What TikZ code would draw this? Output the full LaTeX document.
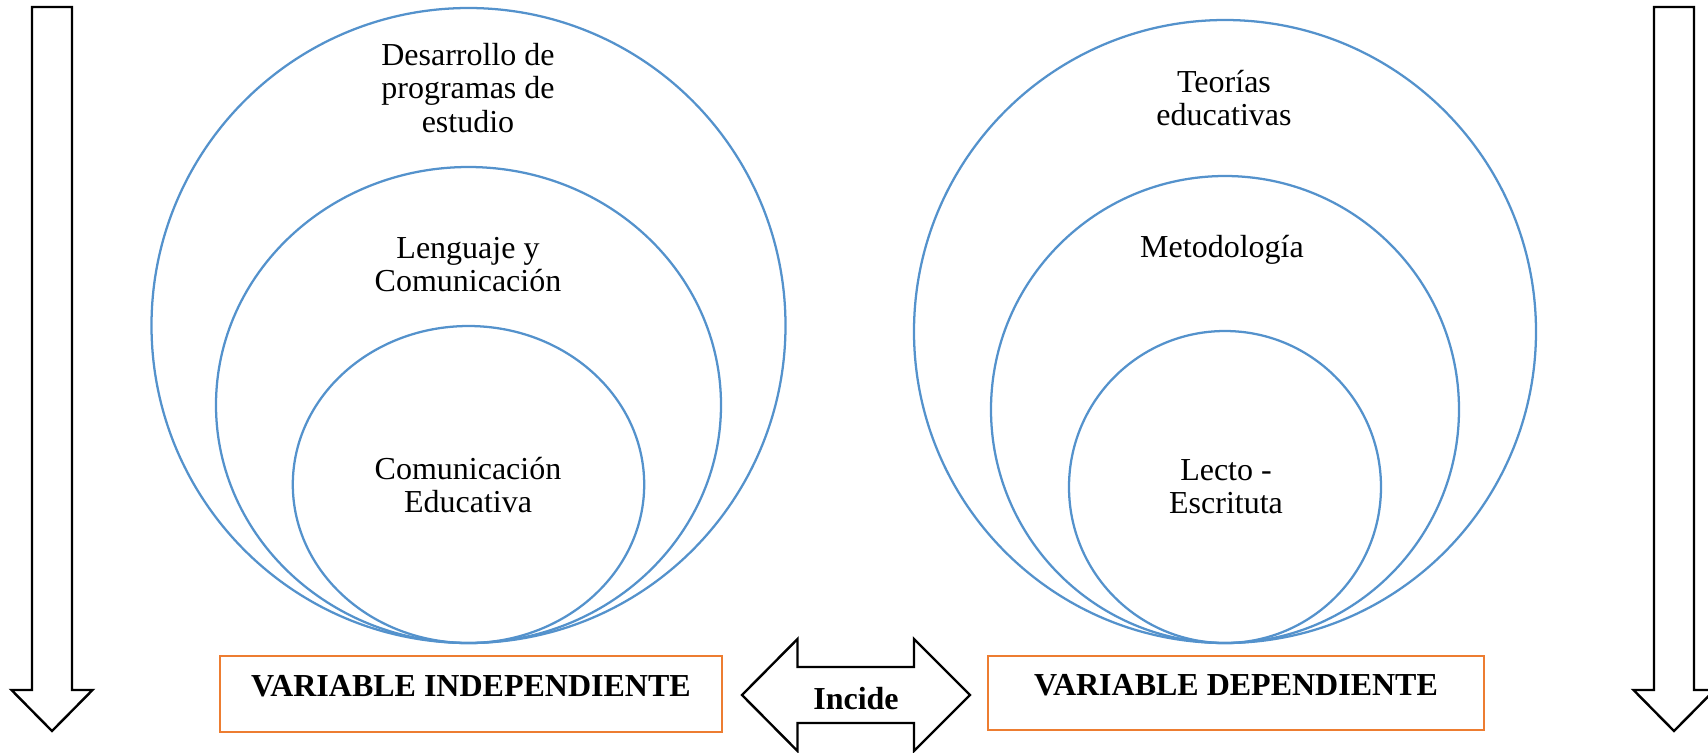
\documentclass[tikz,border=0pt]{standalone}
\usepackage{fontspec}
\setmainfont{Liberation Serif}
\usetikzlibrary{
    positioning,
    backgrounds
    }
\definecolor{ringblue}{RGB}{84,146,204}
\definecolor{boxorange}{RGB}{237,125,49}

\begin{document}
\begin{tikzpicture}[x=0.375pt, y=-0.375pt]
\tikzset{ring/.style =
        {
            line width=0.85pt,
            draw=ringblue
        }
}

\tikzset{ringtext/.style =
        {
            align=center,
            inner sep=0pt,
            font=\fontsize{12}{12.4}\selectfont
        }
}

\tikzset{varbox/.style =
        {
            draw=boxorange,
            line width=0.75pt,
            inner sep=0pt,
            text height=8pt,
            text depth=6pt,
            font=\bfseries\fontsize{12}{12.4}\selectfont
        }
}

\tikzset{blockarrow/.style =
        {
            line width=0.9pt,
            draw=black,
            fill=white,
            line join=miter
        }
}
		\useasboundingbox (0,0) rectangle (1708,752);

		\foreach \cx / \cy / \rx / \ry in
			{468.5/325.5/317/317.5,
				468.5/405/252.5/238,
				468.5/484.5/175.7/158.5,
				1225/331.5/311/311.5,
				1225/409.5/234/233.5,
				1225/487/156/156}
		\draw[ring] (\cx,\cy) ellipse [x radius=\rx, y radius=\ry];

		\node[ringtext] (dev) at (468,88) {Desarrollo de\\programas de\\estudio};
		\node[ringtext] (leng) at (468,265) {Lenguaje y\\Comunicación};
		\node[ringtext] (comed) at (468,485) {Comunicación\\Educativa};

		\node[ringtext] (teo) at (1224,98) {Teorías\\educativas};
		\node[ringtext] (met) at (1222,250) {Metodología};
		\node[ringtext] (lecto) at (1226,487) {Lecto -\\Escrituta};

		\node[varbox, minimum width=188.1pt, minimum height=28.5pt] (vi) at (471,694) {VARIABLE INDEPENDIENTE};
		\node[varbox, minimum width=185.7pt, minimum height=27.75pt] (vd) at (1236,693) {VARIABLE DEPENDIENTE};

		\foreach \cx in {52,1674}
		\draw[blockarrow] (\cx-20,7) -- (\cx+20,7) -- (\cx+20,690) -- (\cx+40.5,690)
			-- (\cx,731) -- (\cx-40.5,690) -- (\cx-20,690) -- cycle;

		\draw[blockarrow] (742,695) -- (797.5,639) -- (797.5,667) -- (914,667) -- (914,639)
			-- (970,695) -- (914,751) -- (914,723) -- (797.5,723) -- (797.5,751) -- cycle;
		\node[anchor=base, inner sep=0pt, font=\bfseries\fontsize{12}{12.4}\selectfont] (incide) at (856,709) {Incide};

	\end{tikzpicture}
\end{document}
